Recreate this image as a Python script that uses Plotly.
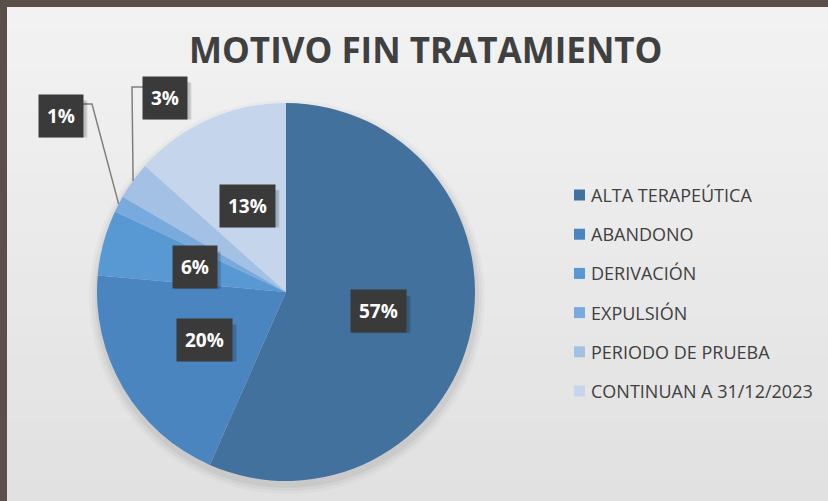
import math
import plotly.graph_objects as go

W, H = 828, 501

# ---- data ----
labels = ["ALTA TERAPEÚTICA", "ABANDONO", "DERIVACIÓN", "EXPULSIÓN",
          "PERIODO DE PRUEBA", "CONTINUAN A 31/12/2023"]
values = [56.6, 19.8, 5.6, 1.4, 3.2, 13.4]
colors = ["#41719C", "#4A85BF", "#5898D3", "#78AADD", "#A3C1E5", "#C5D5EB"]
title_text = "MOTIVO FIN TRATAMIENTO"

# ---- layout constants (pixels) ----
CX, CY, R = 286, 292, 189
# outside label boxes (for small slices): index -> (box center x, y, elbow x, line y)
outside = {3: (61, 116, 92, 104), 4: (165, 98, 132, 87)}

def px(x):
    return x / W

def py(y):
    return 1 - y / H

fig = go.Figure()
fig.add_trace(go.Pie(
    labels=labels, values=values, sort=False, direction="clockwise",
    rotation=0, marker=dict(colors=colors, line=dict(width=0)),
    textinfo="none", hoverinfo="label+percent", showlegend=False,
    domain=dict(x=[px(CX - R), px(CX + R)], y=[py(CY + R), py(CY - R)]),
))

shapes = []
annotations = []

# background: frame + soft gradient bands
shapes.append(dict(type="rect", xref="paper", yref="paper", x0=0, x1=1, y0=0, y1=1,
                   fillcolor="#5B4F4B", line=dict(width=0), layer="below"))
nb = 24
top_c = (242, 242, 242)
bot_c = (225, 225, 225)
y_top, y_bot = 7, H
for i in range(nb):
    t = i / (nb - 1)
    c = tuple(int(round(top_c[k] + (bot_c[k] - top_c[k]) * t)) for k in range(3))
    y0 = y_top + (y_bot - y_top) * i / nb
    y1 = y_top + (y_bot - y_top) * (i + 1) / nb + 1
    shapes.append(dict(type="rect", xref="paper", yref="paper",
                       x0=px(7), x1=1, y0=py(min(y1, H)), y1=py(y0),
                       fillcolor="rgb(%d,%d,%d)" % c, line=dict(width=0), layer="below"))

# pie shadow (subtle, offset down)
for off, op in [(9, 0.025), (6, 0.035), (3, 0.045)]:
    shapes.append(dict(type="circle", xref="paper", yref="paper",
                       x0=px(CX - R - off + 1), x1=px(CX + R + off + 1),
                       y0=py(CY + R + off + 4), y1=py(CY - R - off + 6),
                       fillcolor="rgba(0,0,0,%.3f)" % op, line=dict(width=0), layer="below"))

# title
annotations.append(dict(text="<b>%s</b>" % title_text, xref="paper", yref="paper",
                        x=px(426), y=py(50), xanchor="center", yanchor="middle",
                        showarrow=False,
                        font=dict(family="Open Sans", size=35, color="#404040")))

# data labels
total = sum(values)
cum = 0.0
for i, v in enumerate(values):
    mid = (cum + v / 2) / total * 2 * math.pi
    cum += v
    pct = "%d%%" % round(v / total * 100)
    if i in outside:
        bx, by, ex, ly = outside[i]
        ix = CX + R * math.sin(mid)
        iy = CY - R * math.cos(mid)
        side = 22 if bx < ex else -22
        shapes.append(dict(type="path", xref="paper", yref="paper",
                           path="M %f %f L %f %f L %f %f" % (
                               px(ix), py(iy), px(ex), py(ly), px(bx + side), py(ly)),
                           line=dict(color="#7F7F7F", width=1.5)))
    else:
        bx = CX + 0.5 * R * math.sin(mid)
        by = CY - 0.5 * R * math.cos(mid)
    bw = 11.5 * len(pct) + 22
    bh = 36
    for s, op in [(4, 0.08), (3, 0.12)]:
        shapes.append(dict(type="rect", xref="paper", yref="paper",
                           x0=px(bx - bw / 2 + s - 1), x1=px(bx + bw / 2 + s),
                           y0=py(by + bh / 2 + s), y1=py(by - bh / 2 + s - 1),
                           fillcolor="rgba(0,0,0,%.2f)" % op, line=dict(width=0)))
    annotations.append(dict(text="<b>%s</b>" % pct, xref="paper", yref="paper",
                            x=px(bx), y=py(by), xanchor="center", yanchor="middle",
                            showarrow=False, bgcolor="#3A3A3A", borderpad=8,
                            font=dict(family="Open Sans", size=19, color="white")))

# legend (manual)
leg_x, leg_y0, leg_dy = 574, 195, 39.2
for i, lab in enumerate(labels):
    yc = leg_y0 + i * leg_dy
    shapes.append(dict(type="rect", xref="paper", yref="paper",
                       x0=px(leg_x), x1=px(leg_x + 11), y0=py(yc + 5.5), y1=py(yc - 5.5),
                       fillcolor=colors[i], line=dict(width=0)))
    annotations.append(dict(text=lab, xref="paper", yref="paper",
                            x=px(leg_x + 15), y=py(yc), xanchor="left", yanchor="middle",
                            showarrow=False,
                            font=dict(family="Open Sans", size=18, color="#404040")))

fig.update_layout(width=W, height=H, margin=dict(l=0, r=0, t=0, b=0),
                  paper_bgcolor="#EBEBEB", plot_bgcolor="#EBEBEB",
                  shapes=shapes, annotations=annotations, showlegend=False)
fig.write_html("out.html", config={"displayModeBar": False},
               post_script="document.body.style.margin='0';document.body.style.padding='0';")
